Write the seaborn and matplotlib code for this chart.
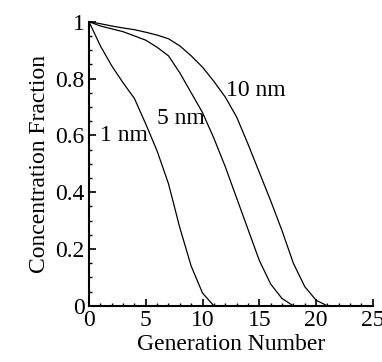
import numpy as np
import pandas as pd
import matplotlib
matplotlib.use("Agg")
import matplotlib.pyplot as plt
import seaborn as sns
from matplotlib.ticker import MultipleLocator, FormatStrFormatter

# values (concentration fraction per generation)
gen_1nm = [0, 1, 2, 3, 4, 5, 6, 7, 8, 9, 10, 11]
conc_1nm = [1.0, 0.915, 0.845, 0.785, 0.73, 0.64, 0.545, 0.43, 0.275, 0.14, 0.045, 0.0]

gen_5nm = list(range(0, 19))
conc_5nm = [1.0, 0.985, 0.975, 0.965, 0.95, 0.935, 0.91, 0.88, 0.82, 0.75,
            0.68, 0.59, 0.49, 0.38, 0.27, 0.16, 0.077, 0.026, 0.0]

gen_10nm = list(range(0, 22))
conc_10nm = [1.0, 0.993, 0.985, 0.978, 0.972, 0.963, 0.953, 0.94, 0.915, 0.88,
             0.84, 0.79, 0.735, 0.665, 0.57, 0.47, 0.37, 0.265, 0.15, 0.068,
             0.02, 0.0]

labels = ["1 nm", "5 nm", "10 nm"]
label_pos = [(0.97, 0.60), (6.0, 0.66), (12.1, 0.757)]

df = pd.concat([
    pd.DataFrame({"gen": gen_1nm, "conc": conc_1nm, "size": labels[0]}),
    pd.DataFrame({"gen": gen_5nm, "conc": conc_5nm, "size": labels[1]}),
    pd.DataFrame({"gen": gen_10nm, "conc": conc_10nm, "size": labels[2]}),
])

sns.set_style("ticks")
plt.rcParams["font.family"] = ["Liberation Serif", "DejaVu Serif"]
plt.rcParams["font.size"] = 17
plt.rcParams["text.color"] = "black"
plt.rcParams["axes.labelcolor"] = "black"

fig = plt.figure(figsize=(3.82, 3.62), dpi=100)
ax = fig.add_axes([0.233, 0.155, 0.743, 0.785])

sns.lineplot(data=df, x="gen", y="conc", units="size", estimator=None,
             color="black", linewidth=0.9, ax=ax, legend=False)
for line in ax.lines:
    line.set_clip_on(False)

for lab, (x, y) in zip(labels, label_pos):
    ax.text(x, y, lab, ha="left", va="center", fontsize=17, color="black")

ax.set_xlim(0, 25)
ax.set_ylim(0, 1)
ax.xaxis.set_major_locator(MultipleLocator(5))
ax.xaxis.set_minor_locator(MultipleLocator(1))
ax.yaxis.set_major_locator(MultipleLocator(0.2))
ax.yaxis.set_minor_locator(MultipleLocator(0.05))
ax.xaxis.set_major_formatter(FormatStrFormatter("%g"))
ax.yaxis.set_major_formatter(FormatStrFormatter("%g"))

sns.despine(ax=ax)
for side in ["left", "bottom"]:
    ax.spines[side].set_linewidth(1.5)
    ax.spines[side].set_color("black")
ax.tick_params(which="major", direction="in", length=5, width=1.2,
               labelsize=17, pad=3, colors="black")
ax.tick_params(which="minor", direction="in", length=2.5, width=1.0,
               colors="black")

ax.set_xlabel("Generation Number", fontsize=17, labelpad=2)
ax.set_ylabel("Concentration Fraction", fontsize=17, labelpad=4)

fig.savefig("out.png", dpi=100)
